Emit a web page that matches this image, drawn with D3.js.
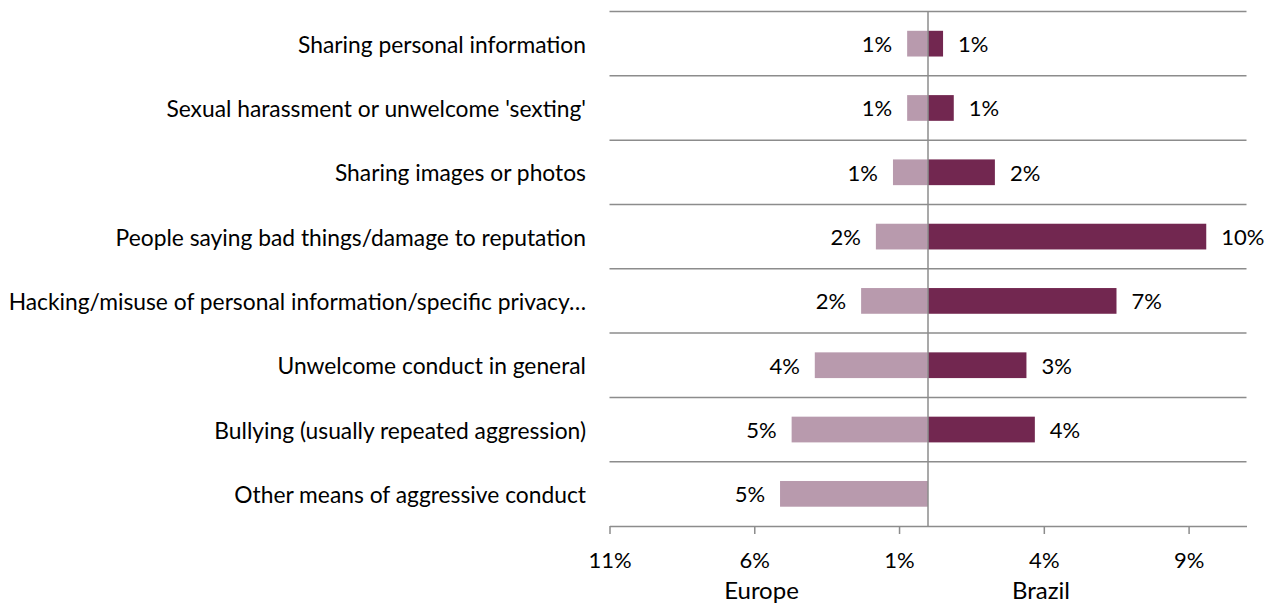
<!DOCTYPE html>
<html>
<head>
<meta charset="utf-8">
<script src="https://cdn.jsdelivr.net/npm/d3@7"></script>
<style>
  html, body { margin: 0; padding: 0; background: #fff; }
  svg { display: block; font-family: Lato, "Open Sans", sans-serif; }
</style>
</head>
<body>
<svg id="chart" width="1274" height="607"></svg>
<script>
const categories = [
  "Sharing personal information",
  "Sexual harassment or unwelcome 'sexting'",
  "Sharing images or photos",
  "People saying bad things/damage to reputation",
  "Hacking/misuse of personal information/specific privacy\u2026",
  "Unwelcome conduct in general",
  "Bullying (usually repeated aggression)",
  "Other means of aggressive conduct"
];
const europe = [0.72, 0.72, 1.21, 1.80, 2.31, 3.91, 4.71, 5.11];
const brazil = [0.52, 0.89, 2.31, 9.61, 6.51, 3.40, 3.69, 0];
const tickValues = [-11, -6, -1, 4, 9];
const tickLabels = ["11%", "6%", "1%", "4%", "9%"];
const seriesNames = ["Europe", "Brazil"];

const svg = d3.select("#chart");
const catSize = 22.8;
const numSize = 22;
const titleSize = 24;
const gridColor = "#8c8c8c";
const colEurope = "#b89aad";
const colBrazil = "#722750";

const x = d3.scaleLinear().domain([-11, 11]).range([609.5, 1246.5]);
const y = d3.scaleBand().domain(categories).range([11.5, 526]).paddingInner(0.6).paddingOuter(0.3);
const step = y.step();

// horizontal grid lines (top of each band)
svg.append("g").selectAll("line").data(categories).join("line")
  .attr("x1", x(-11)).attr("x2", x(11))
  .attr("y1", d => y(d) - step * 0.3).attr("y2", d => y(d) - step * 0.3)
  .attr("stroke", gridColor).attr("stroke-width", 1.5);

// Europe bars
svg.append("g").selectAll("rect").data(europe).join("rect")
  .attr("x", d => x(-d)).attr("width", d => x(0) - x(-d))
  .attr("y", (d, i) => y(categories[i])).attr("height", y.bandwidth())
  .attr("fill", colEurope);

// Brazil bars
svg.append("g").selectAll("rect").data(brazil).join("rect")
  .attr("x", x(0)).attr("width", d => x(d) - x(0))
  .attr("y", (d, i) => y(categories[i])).attr("height", y.bandwidth())
  .attr("fill", colBrazil);

// zero line
svg.append("line")
  .attr("x1", x(0)).attr("x2", x(0))
  .attr("y1", 11.5).attr("y2", 526)
  .attr("stroke", gridColor).attr("stroke-width", 1.5);

// bottom axis
const axis = d3.axisBottom(x).tickValues(tickValues)
  .tickFormat((d, i) => tickLabels[i]).tickSize(8).tickSizeOuter(0).tickPadding(18);
const gx = svg.append("g").attr("transform", "translate(0,526)").call(axis);
gx.select(".domain").attr("stroke", gridColor).attr("stroke-width", 1.5);
gx.selectAll(".tick line").attr("stroke", gridColor).attr("stroke-width", 1.5);
gx.selectAll(".tick text").attr("fill", "#000").attr("font-size", numSize)
  .attr("font-family", "Lato, 'Open Sans', sans-serif");

// category labels
svg.append("g").selectAll("text").data(categories).join("text")
  .attr("x", 586).attr("y", d => y(d) + y.bandwidth() / 2)
  .attr("text-anchor", "end").attr("dominant-baseline", "central")
  .attr("font-size", catSize).attr("fill", "#000")
  .text(d => d);

const fmt = v => Math.round(v) + "%";

// Europe labels
svg.append("g").selectAll("text").data(europe).join("text")
  .attr("x", d => x(-d) - 15).attr("y", (d, i) => y(categories[i]) + y.bandwidth() / 2)
  .attr("text-anchor", "end").attr("dominant-baseline", "central")
  .attr("font-size", numSize).attr("fill", "#000")
  .text(d => fmt(d));

// Brazil labels
svg.append("g").selectAll("text").data(brazil.map((v, i) => ({v, i})).filter(d => d.v > 0)).join("text")
  .attr("x", d => x(d.v) + 15).attr("y", d => y(categories[d.i]) + y.bandwidth() / 2)
  .attr("text-anchor", "start").attr("dominant-baseline", "central")
  .attr("font-size", numSize).attr("fill", "#000")
  .text(d => fmt(d.v));

// series titles
svg.append("text").attr("x", x(-5.75)).attr("y", 599)
  .attr("text-anchor", "middle")
  .attr("font-size", titleSize).attr("fill", "#000").text(seriesNames[0]);
svg.append("text").attr("x", x(3.9)).attr("y", 599)
  .attr("text-anchor", "middle")
  .attr("font-size", titleSize).attr("fill", "#000").text(seriesNames[1]);
</script>
</body>
</html>
